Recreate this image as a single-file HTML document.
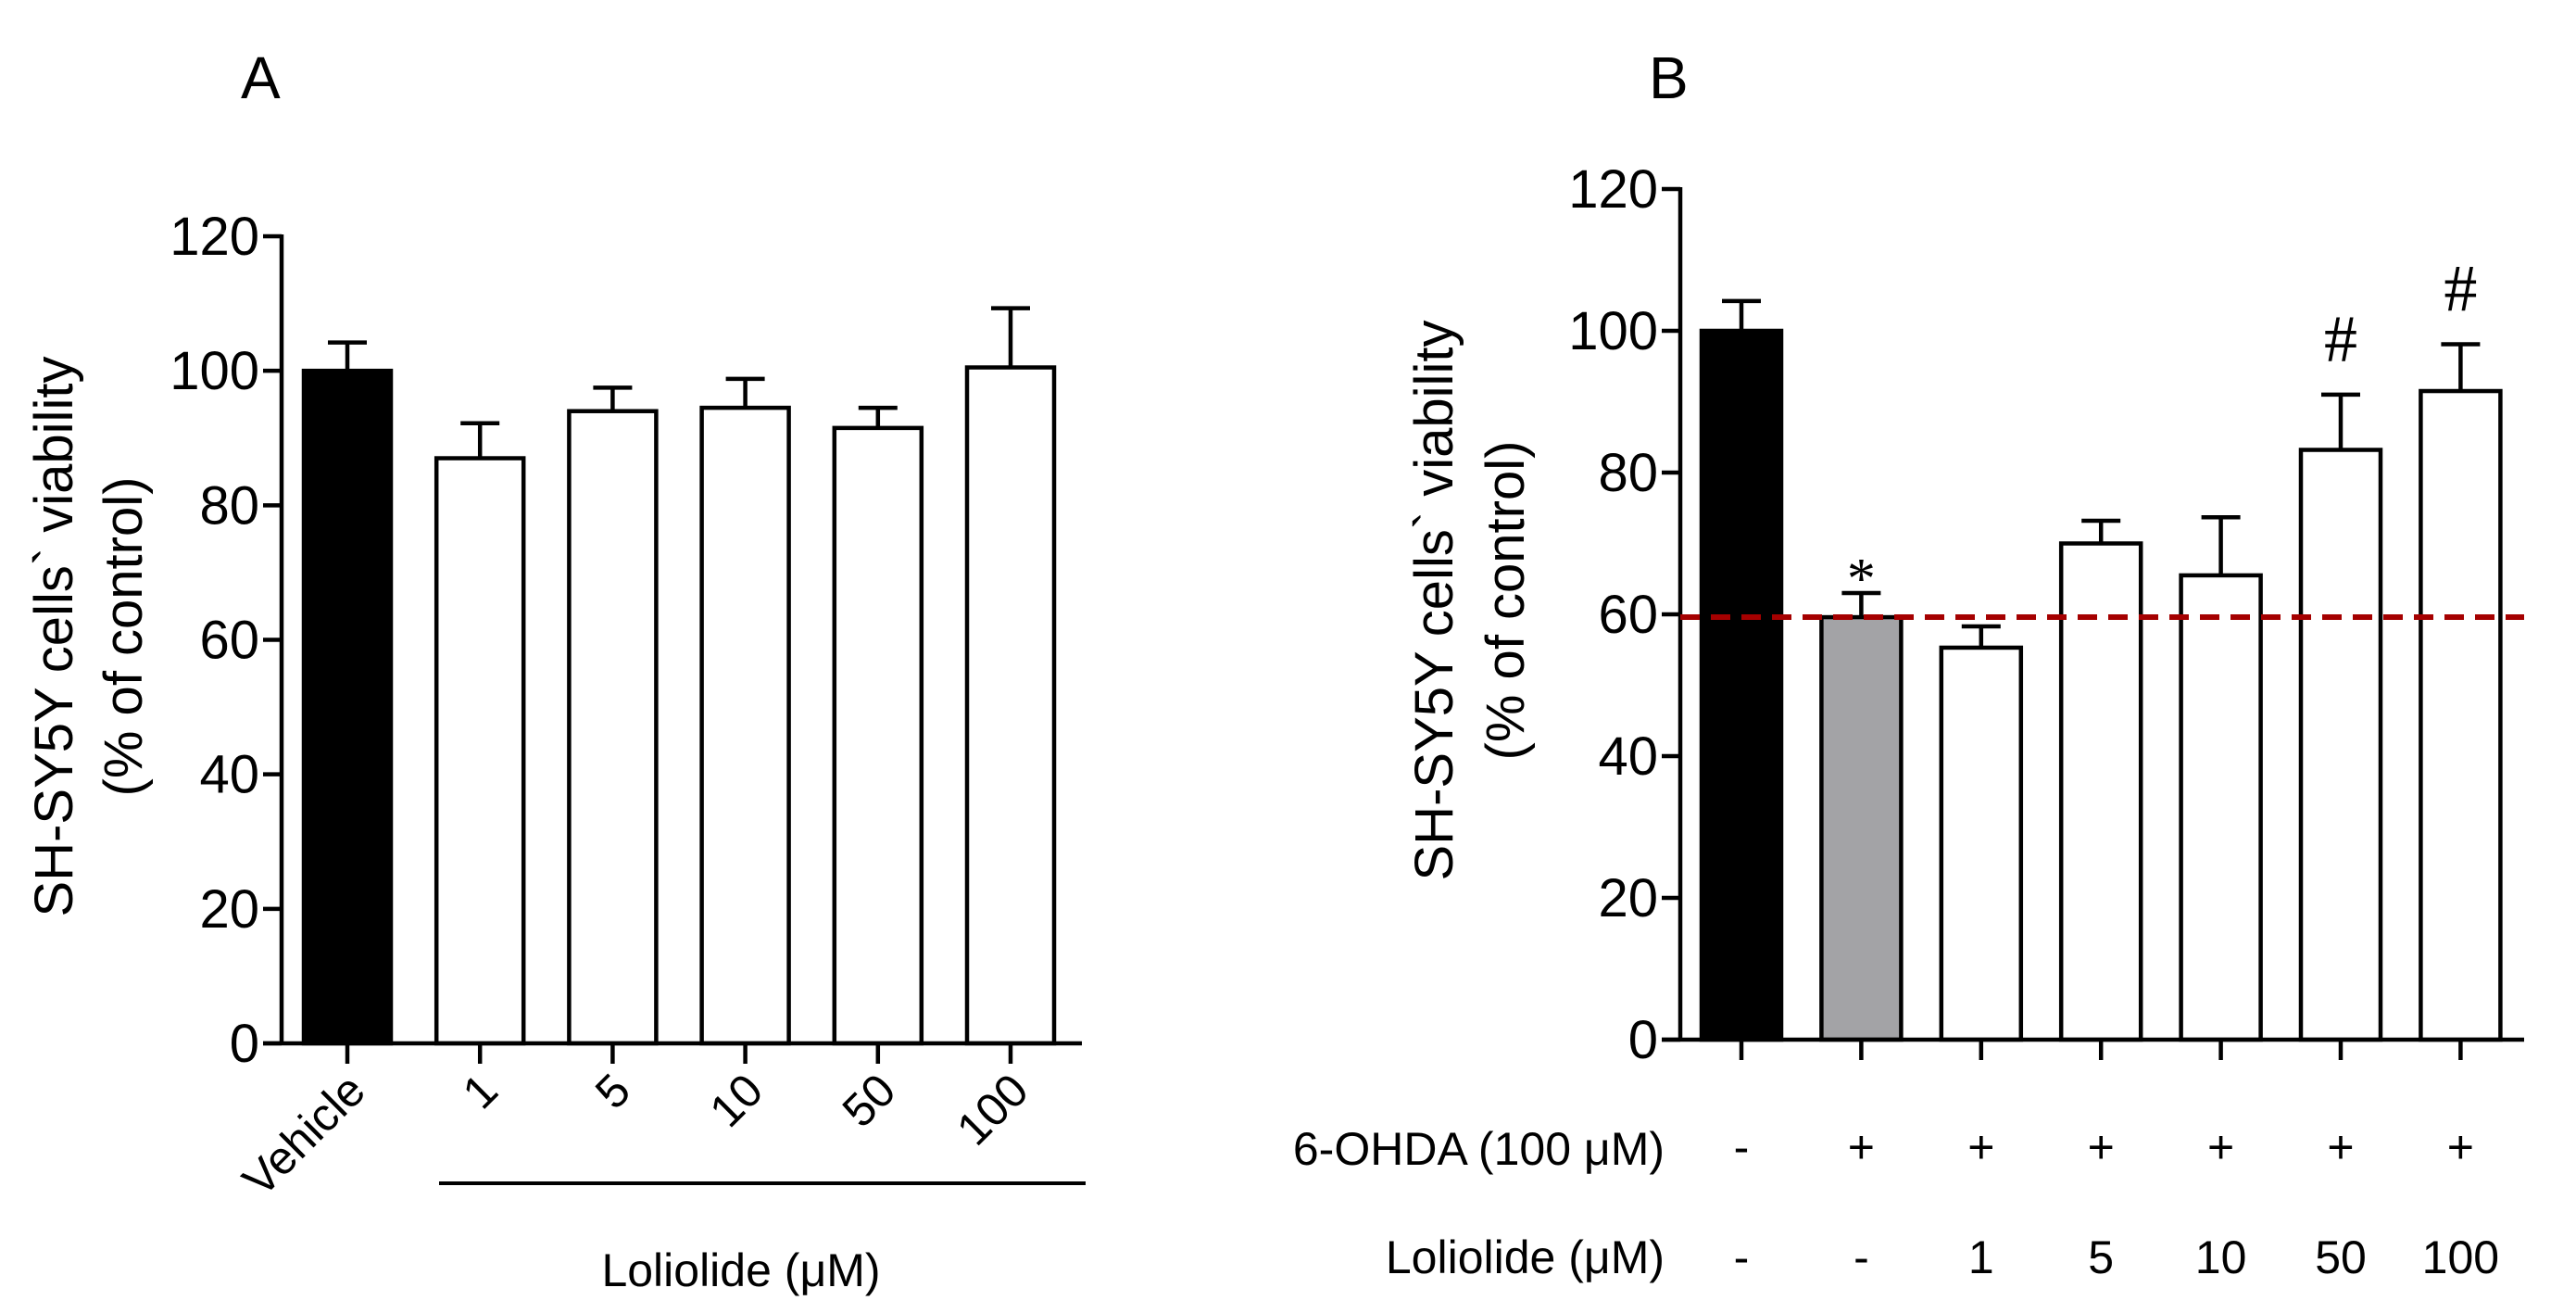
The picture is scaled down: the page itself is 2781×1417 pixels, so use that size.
<!DOCTYPE html>
<html><head><meta charset="utf-8"><style>
html,body{margin:0;padding:0;background:#fff;}
svg{display:block;font-family:"Liberation Sans",Arial,sans-serif;}
</style></head><body>
<svg id="fig" width="2781" height="1417" viewBox="0 0 2781 1417" xmlns="http://www.w3.org/2000/svg"></svg>
<script>
// Panel A data
const catsA = ["Vehicle","1","5","10","50","100"];
const meanA = [100, 87, 94, 94.5, 91.5, 100.5];
const errA  = [4.2, 5.2, 3.5, 4.3, 3, 8.8];
const fillA = ["#000","#fff","#fff","#fff","#fff","#fff"];
// Panel B data
const ohdaB = ["-","+","+","+","+","+","+"];
const lolB  = ["-","-","1","5","10","50","100"];
const meanB = [100, 59.6, 55.3, 70, 65.5, 83.2, 91.5];
const errB  = [4.2, 3.4, 3, 3.2, 8.2, 7.8, 6.6];
const fillB = ["#000","#a3a3a6","#fff","#fff","#fff","#fff","#fff"];
const markB = ["","*","","","","#","#"];
const refLineB = 59.6;
const yTicks = [0,20,40,60,80,100,120];

const NS="http://www.w3.org/2000/svg";
const svg=document.getElementById('fig');
function mk(tag,attrs,parent,text){
  const e=document.createElementNS(NS,tag);
  for(const k in attrs) e.setAttribute(k,attrs[k]);
  if(text!==undefined) e.textContent=text;
  (parent||svg).appendChild(e);
  return e;
}

function panel(o){
  const g=mk('g',{});
  
  
  const y=v=>o.y0-(v/120)*(o.y0-o.y120);
  const x=i=>o.c0+i*o.step;
  o.means.forEach((m,i)=>{
    const cx=x(i), w=o.bw;
    const eb=mk('path',{d:`M${cx} ${y(m)} V${y(m+o.errs[i])} M${cx-21} ${y(m+o.errs[i])} H${cx+21}`,stroke:'#000','stroke-width':4.5,fill:'none'},g);
    
    
    const r=mk('rect',{x:cx-w/2,y:y(m),width:w,height:o.y0-y(m),fill:o.fills[i],stroke:'#000','stroke-width':4.5},g);
    
    
    const t=mk('line',{x1:cx,y1:o.y0,x2:cx,y2:o.y0+22,stroke:'#000','stroke-width':4.5},g);
    
    
  });
  const ya=mk('line',{x1:o.ax,y1:o.y120-2,x2:o.ax,y2:o.y0+2,stroke:'#000','stroke-width':4.5},g);
  
  
  const xa=mk('line',{x1:o.ax-20,y1:o.y0,x2:o.xend,y2:o.y0,stroke:'#000','stroke-width':4.5},g);
  
  
  yTicks.forEach(v=>{
    const tk=mk('line',{x1:o.ax-20,y1:y(v),x2:o.ax,y2:y(v),stroke:'#000','stroke-width':4.5},g);
    
    
    const tl=mk('text',{x:o.ax-24,y:y(v)+20,'font-size':58,'text-anchor':'end'},g,String(v));
    
    
  });
  const tt=mk('text',{transform:`translate(${o.tx1},${o.ty}) rotate(-90)`,'font-size':58,'text-anchor':'middle'},g,"SH-SY5Y cells` viability");
  
  
  const tt2=mk('text',{transform:`translate(${o.tx2},${o.ty}) rotate(-90)`,'font-size':58,'text-anchor':'middle'},g,"(% of control)");
  
  
  const pl=mk('text',{x:o.lx,y:106,'font-size':64},g,o.label);
  
  
  return {g,x,y};
}

const A=panel({name:'panel-a',means:meanA,errs:errA,fills:fillA,y0:1126,y120:255,c0:375,step:143.2,bw:94,ax:304,xend:1168,tx1:78,tx2:153,ty:687,lx:260,label:'A'});
catsA.forEach((c,i)=>{
  const cx=A.x(i);
  const t=mk('text',{transform:`translate(${cx+22},${1180}) rotate(-45)`,'font-size':50,'text-anchor':'end'},A.g,c);
  
  
});
const ul=mk('line',{x1:474,y1:1277,x2:1172,y2:1277,stroke:'#000','stroke-width':4},A.g);


const lt=mk('text',{x:800,y:1388,'font-size':50,'text-anchor':'middle'},A.g,'Loliolide (μM)');



const B=panel({name:'panel-b',means:meanB,errs:errB,fills:fillB,y0:1122,y120:204,c0:1880,step:129.4,bw:86,ax:1814,xend:2725,tx1:1568,tx2:1645,ty:648,lx:1780,label:'B'});
const rl=mk('line',{x1:1814,y1:B.y(refLineB),x2:2725,y2:B.y(refLineB),stroke:'#a50000','stroke-width':6,'stroke-dasharray':'21 12'},B.g);


markB.forEach((m,i)=>{
  if(!m) return;
  const top=B.y(meanB[i]+errB[i]);
  const t=mk('text',{x:B.x(i),y:m==='*'?top+5:top-36,'font-size':m==='*'?62:72,'text-anchor':'middle','font-family':'"Liberation Serif",serif'},B.g,m);
  
  
});
const r1=mk('text',{x:1797,y:1257,'font-size':50,'text-anchor':'end'},B.g,'6-OHDA (100 μM)');


const r2=mk('text',{x:1797,y:1374,'font-size':50,'text-anchor':'end'},B.g,'Loliolide (μM)');


ohdaB.forEach((s,i)=>{
  const t=mk('text',{x:B.x(i),y:1255,'font-size':50,'text-anchor':'middle'},B.g,s);
  
  
});
lolB.forEach((s,i)=>{
  const t=mk('text',{x:B.x(i),y:1374,'font-size':50,'text-anchor':'middle'},B.g,s);
  
  
});
</script>
</body></html>
